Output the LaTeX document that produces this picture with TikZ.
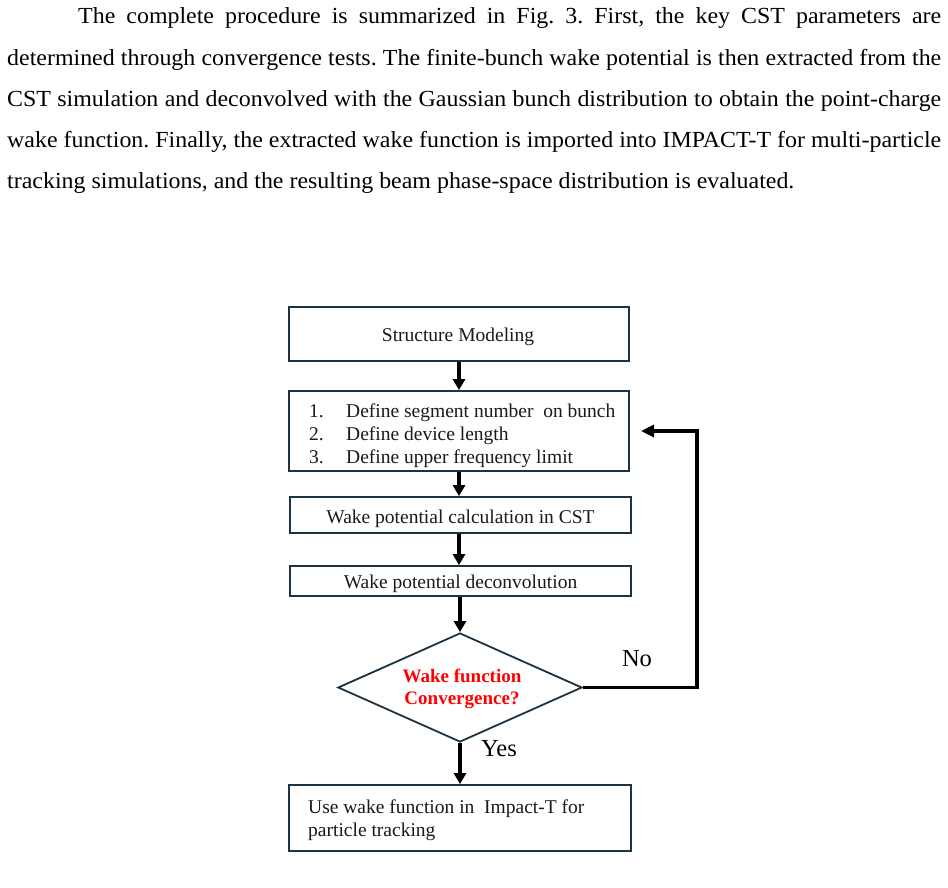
\documentclass[tikz,border=0pt]{standalone}
\usepackage{fontspec}
\setmainfont{Liberation Serif}
\usetikzlibrary{arrows.meta,shapes.geometric}
\definecolor{boxline}{HTML}{1B3342}
\definecolor{wred}{HTML}{FF0000}
\definecolor{ink}{HTML}{1A1A1A}
\newcommand{\plinew}[2]{\scalebox{1.04}[1]{\makebox[#1][s]{#2}}}
\frenchspacing
\begin{document}
\begin{tikzpicture}[x=1pt,y=-1pt,
  box/.style={draw=boxline,line width=1.8pt,inner sep=0pt,fill=white},
  flow/.style={line width=3.2pt,-{Triangle[length=11pt,width=12pt]}},
  lbl/.style={font=\fontsize{19.5}{23}\selectfont,text=ink,inner sep=0pt},
  para/.style={font=\fontsize{23}{41}\selectfont,text=black,inner sep=0pt,anchor=base west},
  yn/.style={font=\fontsize{24.5}{27}\selectfont,text=black,inner sep=0pt}]
\useasboundingbox (0,0) rectangle (948,887);
% paragraph
\node[para] (p1) at (78,23) {\plinew{829.8pt}{The complete procedure is summarized in Fig. 3. First, the key CST parameters are}};
\node[para] (p2) at (7,65) {\plinew{898.1pt}{determined through convergence tests. The finite-bunch wake potential is then extracted from the}};
\node[para] (p3) at (7,106) {\plinew{898.1pt}{CST simulation and deconvolved with the Gaussian bunch distribution to obtain the point-charge}};
\node[para] (p4) at (7,147) {\plinew{898.1pt}{wake function. Finally, the extracted wake function is imported into IMPACT-T for multi-particle}};
\node[para] (p5) at (7,188) {\scalebox{1.04}[1]{tracking simulations, and the resulting beam phase-space distribution is evaluated.}};
% boxes
\node[box,minimum width=340pt,minimum height=54pt] (b1) at (459,334) {};
\node[lbl] (t1) at (458,336.5) {Structure Modeling};
\node[box,minimum width=340pt,minimum height=80pt] (b2) at (459,431) {};
\node[lbl,anchor=base west] (n1) at (309,417) {1.};
\node[lbl,anchor=base west] (n2) at (309,440) {2.};
\node[lbl,anchor=base west] (n3) at (309,463) {3.};
\node[lbl,anchor=base west] (l1) at (346,417) {Define segment number\ \ on bunch};
\node[lbl,anchor=base west] (l2) at (346,440) {Define device length};
\node[lbl,anchor=base west] (l3) at (346,463) {Define upper frequency limit};
\node[box,minimum width=341pt,minimum height=36pt] (b3) at (460.5,515) {};
\node[lbl] (t3) at (460.5,518.5) {Wake potential calculation in CST};
\node[box,minimum width=341pt,minimum height=30pt] (b4) at (460.5,581) {};
\node[lbl] (t4) at (460.5,583.5) {Wake potential deconvolution};
\node[diamond,draw=boxline,line width=1.8pt,inner sep=0pt,minimum width=244pt,minimum height=109pt] (dia) at (460,687.5) {};
\node[lbl,text=wred,font=\bfseries\fontsize{19}{22}\selectfont,align=center] (td) at (462,688.5) {Wake function\\Convergence?};
\node[box,minimum width=342pt,minimum height=66pt] (b5) at (460,818) {};
\node[lbl,anchor=base west] (t5a) at (308,813) {Use wake function in\ \ Impact-T for};
\node[lbl,anchor=base west] (t5b) at (308,836) {particle tracking};
% labels
\node[yn] (no) at (637,659) {No};
\node[yn] (yes) at (499,749) {Yes};
% connectors
\coordinate (fbturn) at (697,686);
\coordinate (fbtip) at (641,431);
\draw[flow] (b1.south) -- (b2.north);
\draw[flow] (b2.south) -- (b2.south |- b3.north);
\draw[flow] (b3.south -| b2.south) -- (b2.south |- b4.north);
\draw[flow] (b4.south -| dia.north) -- (dia.north);
\draw[flow] (dia.south) -- (b5.north);
\draw[flow,-{Triangle[length=13pt,width=12pt]}] (dia.east) -- (dia.east -| fbturn) -- (fbturn |- fbtip) -- (fbtip);
\end{tikzpicture}
\end{document}
